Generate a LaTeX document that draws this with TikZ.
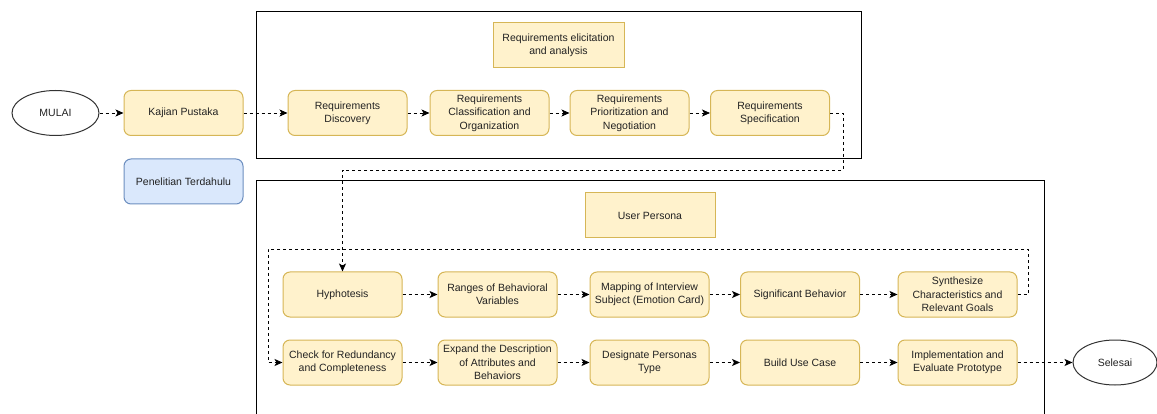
\documentclass[tikz,border=0pt]{standalone}
\usepackage{fontspec}
\setmainfont{Liberation Sans}
\usetikzlibrary{arrows.meta,shapes.geometric}
\definecolor{yfill}{HTML}{FFF2CC}
\definecolor{ydraw}{HTML}{D6B656}
\definecolor{bfill}{HTML}{DAE8FC}
\definecolor{bdraw}{HTML}{6C8EBF}
\definecolor{txt}{HTML}{222222}
\begin{document}
\begin{tikzpicture}[x=1pt,y=-1pt,
  base/.style={line width=1pt, align=center, inner sep=1pt, text=txt,
    font=\fontsize{10.5}{13.3}\selectfont},
  proc/.style={base, rounded corners=7pt, draw=ydraw, fill=yfill,
    minimum width=119pt, minimum height=45pt},
  note/.style={base, draw=ydraw, fill=yfill, minimum width=131pt, minimum height=45pt},
  blue/.style={proc, draw=bdraw, fill=bfill},
  term/.style={base, ellipse, draw=black!80, minimum width=87pt, minimum height=45pt},
  frame/.style={line width=1pt, draw=black},
  flow/.style={line width=0.8pt, dash pattern=on 3pt off 3pt,
    -{Stealth[length=8pt,width=7pt,inset=2pt]}},
  link/.style={line width=0.8pt, dash pattern=on 3pt off 3pt}]
\useasboundingbox (0,0) rectangle (1157,414);
% frames
\draw[frame] (256,12) rectangle (861,159);
\draw[frame] (256,414.5) -- (256,181) -- (1044,181) -- (1044,414.5);
% nodes
\node[term] (mulai) at (55.5,113) {MULAI};
\node[proc] (kajian) at (183.5,113) {Kajian Pustaka};
\node[blue] (pen) at (183.5,181.5) {Penelitian Terdahulu};
\node[note] (elic) at (558.5,45.5) {Requirements elicitation\\and analysis};
\node[proc] (disc) at (347.5,113) {Requirements\\Discovery};
\node[proc] (class) at (489.5,113) {Requirements\\Classification and\\Organization};
\node[proc] (prio) at (629.5,113) {Requirements\\Prioritization and\\Negotiation};
\node[proc] (spec) at (770,113) {Requirements\\Specification};
\node[note, minimum width=130pt] (persona) at (650,215.5) {User Persona};
\node[proc] (hyp) at (342.5,294.5) {Hyphotesis};
\node[proc] (ranges) at (497.5,294.5) {Ranges of Behavioral\\Variables};
\node[proc] (mapping) at (649.5,294.5) {Mapping of Interview\\Subject (Emotion Card)};
\node[proc] (sig) at (800,294.5) {Significant Behavior};
\node[proc] (syn) at (957.5,294.5) {Synthesize\\Characteristics and\\Relevant Goals};
\node[proc] (check) at (342.5,362.5) {Check for Redundancy\\and Completeness};
\node[proc] (expand) at (497.5,362.5) {Expand the Description\\of Attributes and\\Behaviors};
\node[proc] (design) at (649.5,362.5) {Designate Personas\\Type};
\node[proc] (build) at (800,362.5) {Build Use Case};
\node[proc] (impl) at (957.5,362.5) {Implementation and\\Evaluate Prototype};
\node[term, minimum width=84pt] (selesai) at (1115,362.5) {Selesai};
% connectors
\coordinate (a1) at (843,170);
\coordinate (a2) at (1028,249);
\coordinate (a3) at (268,249);
\draw[flow] (mulai) -- (kajian);
\draw[flow] (kajian) -- (disc);
\draw[flow] (disc) -- (class);
\draw[flow] (class) -- (prio);
\draw[flow] (prio) -- (spec);
\draw[flow] (spec.east) -| (a1) -| (hyp.north);
\draw[flow] (hyp) -- (ranges);
\draw[flow] (ranges) -- (mapping);
\draw[flow] (mapping) -- (sig);
\draw[flow] (sig) -- (syn);
\draw[flow] (syn.east) -| (a2) -- (a3) |- (check.west);
\draw[flow] (check) -- (expand);
\draw[flow] (expand) -- (design);
\draw[flow] (design) -- (build);
\draw[flow] (build) -- (impl);
\draw[flow] (impl) -- (selesai);
\end{tikzpicture}
\end{document}
